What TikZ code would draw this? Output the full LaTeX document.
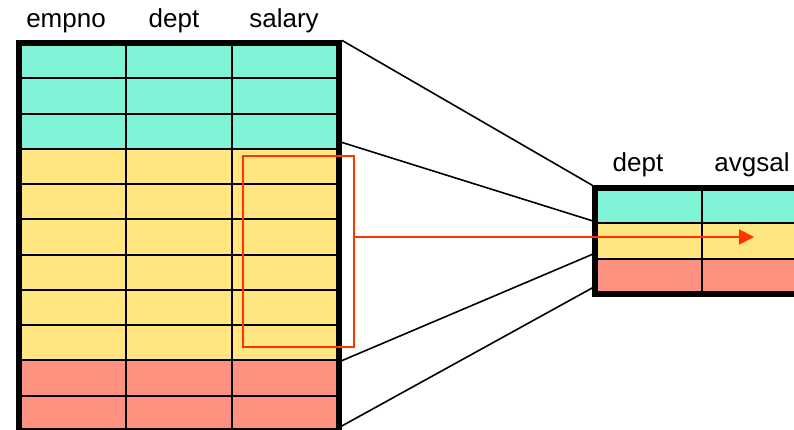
\documentclass[tikz,border=0pt]{standalone}
\usepackage{fontspec}
\setmainfont{Liberation Sans}
\usepackage{tikz}
\usetikzlibrary{arrows.meta}
\definecolor{lightteal}{RGB}{128,242,216}
\definecolor{lightyellow}{RGB}{255,230,128}
\definecolor{lightsalmon}{RGB}{255,145,128}
\definecolor{brightred}{RGB}{255,51,0}

\begin{document}
\begin{tikzpicture}[x=1pt,y=-1pt,
  cell/.style={draw,line width=2pt,inner sep=0pt,minimum height=35.3pt},
  frame/.style={draw,line width=5.5pt,inner sep=0pt},
  head/.style={anchor=base,font=\fontsize{26}{30}\selectfont},
  link/.style={line width=1.6pt}]
  \useasboundingbox (0,0) rectangle (794,430);

  % employee table
  \foreach \r/\col in {1/lightteal,2/lightteal,3/lightteal,
      4/lightyellow,5/lightyellow,6/lightyellow,7/lightyellow,8/lightyellow,9/lightyellow,
      10/lightsalmon,11/lightsalmon}
    \foreach \c in {1,2,3}
      \node[cell,fill=\col,minimum width=106.67pt] (emp-\r-\c)
        at ({19+(\c-0.5)*106.67},{43+(\r-0.5)*35.27}) {};
  \node[frame,minimum width=320pt,minimum height=388pt] (emp) at (179,237) {};
  \node[head] (h-empno) at (66,28) {empno};
  \node[head] (h-dept) at (174,28) {dept};
  \node[head] (h-salary) at (284,28) {salary};

  % result table
  \foreach \r/\col in {1/lightteal,2/lightyellow,3/lightsalmon}
    \foreach \c in {1,2}
      \node[cell,fill=\col,minimum width=107pt] (avg-\r-\c)
        at ({595+(\c-0.5)*107},{188+(\r-0.5)*35.33}) {};
  \node[frame,minimum width=214pt,minimum height=106pt] (avg) at (702,241) {};
  \node[head] (h-dept2) at (638,172) {dept};
  \node[head] (h-avgsal) at (752,172) {avgsal};

  % groups
  \draw[link] (emp.north east) -- (avg.north west);
  \draw[link] ([yshift=8pt]emp-3-3.south east) -- ([yshift=3pt]avg-1-1.south west);
  \draw[link] (emp-9-3.south east) -- ([yshift=6pt]avg-2-1.south west);
  \draw[link] ([yshift=5pt]emp-11-3.south east) -- ([yshift=8pt]avg-3-1.south west);

  % aggregate
  \node[draw=brightred,line width=2.4pt,inner sep=0pt,minimum width=111pt,minimum height=191pt]
    (sel) at (298.5,251.5) {};
  \coordinate (tip) at (754,237);
  \draw[brightred,line width=2pt,-{Triangle[length=15pt,width=15pt]}] (sel.east |- tip) -- (tip);
\end{tikzpicture}
\end{document}
